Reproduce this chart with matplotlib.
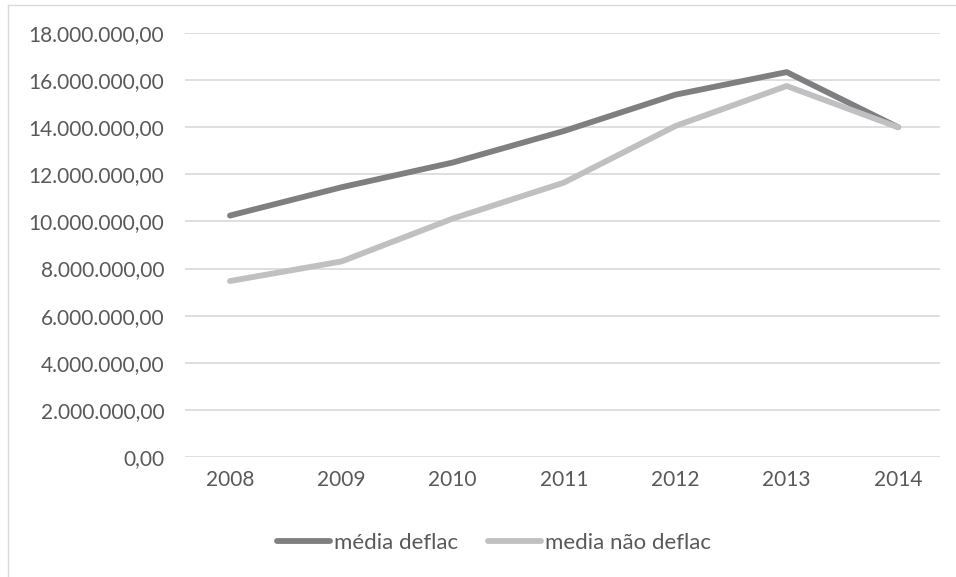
import matplotlib.pyplot as plt
from matplotlib.lines import Line2D
from matplotlib.ticker import FuncFormatter

anos = ['2008', '2009', '2010', '2011', '2012', '2013', '2014']
media_deflac = [10250000, 11450000, 12500000, 13840000, 15380000, 16340000, 14000000]
media_nao_deflac = [7470000, 8300000, 10120000, 11650000, 14050000, 15750000, 14000000]

plt.rcParams['font.family'] = ['Lato', 'DejaVu Sans']
cor_texto = '#595959'
cor_escura = '#7f7f81'
cor_clara = '#c0c0c3'

fig = plt.figure(figsize=(9.56, 5.77), dpi=100)
ax = fig.add_axes([185 / 956, 1 - 457 / 577, 755 / 956, 424 / 577])

x = range(len(anos))
ax.plot(x, media_deflac, color=cor_escura, lw=4.2, solid_capstyle='round', label='média deflac')
ax.plot(x, media_nao_deflac, color=cor_clara, lw=4.2, solid_capstyle='round', label='media não deflac')

ax.set_xlim(-0.404, 6.377)
ax.set_ylim(0, 18000000)
ax.set_yticks(range(0, 18000001, 2000000))


def fmt_br(v, pos):
    return '{:,.2f}'.format(v).replace(',', 'X').replace('.', ',').replace('X', '.')


ax.yaxis.set_major_formatter(FuncFormatter(fmt_br))
ax.set_xticks(list(x))
ax.set_xticklabels(anos)
ax.tick_params(length=0, labelsize=15, colors=cor_texto)
ax.tick_params(axis='y', pad=15)
ax.tick_params(axis='x', pad=9)
for s in ax.spines.values():
    s.set_visible(False)
ax.grid(axis='y', color='#d9d9d9', lw=1.2)
ax.set_axisbelow(True)

# moldura do grafico (cortada)
fig.add_artist(Line2D([8 / 956, 8 / 956], [0, 1 - 5 / 577], color='#d9d9d9', lw=1))
fig.add_artist(Line2D([8 / 956, 1], [1 - 5 / 577, 1 - 5 / 577], color='#d9d9d9', lw=1))

leg = fig.legend(loc='center', bbox_to_anchor=(494 / 956, 1 - 543 / 577), ncol=2, frameon=False,
                 fontsize=16, handlelength=2.4, handletextpad=0.2, columnspacing=1.3)
for t in leg.get_texts():
    t.set_color(cor_texto)

fig.savefig('out.png', dpi=100)
